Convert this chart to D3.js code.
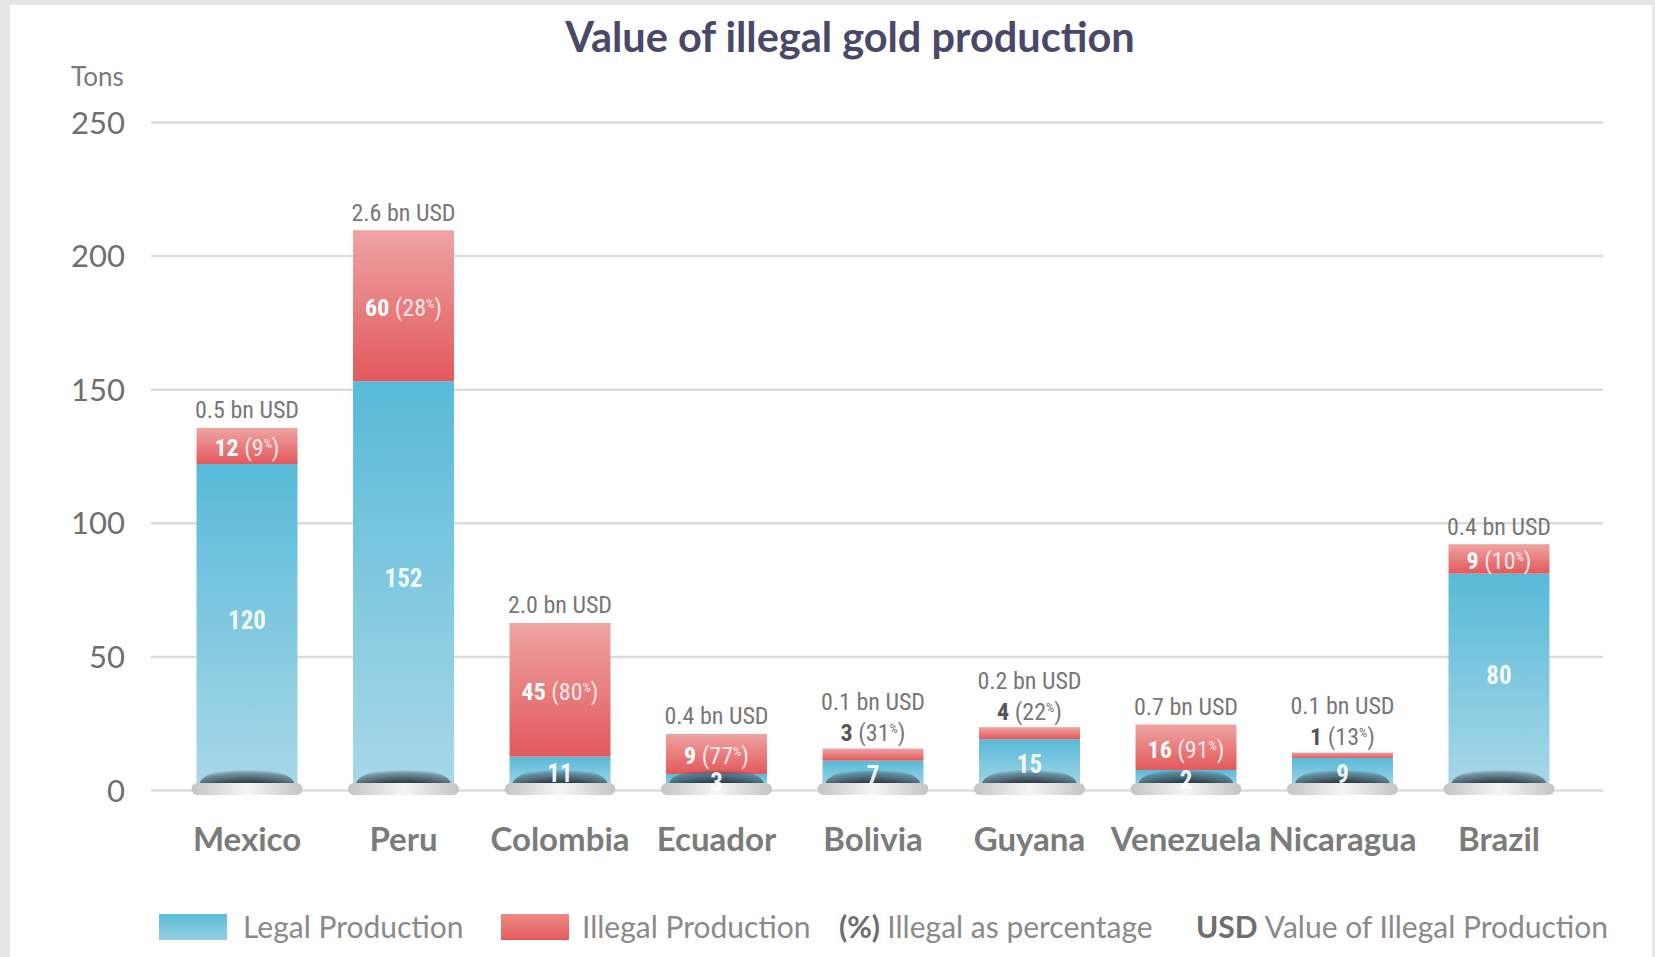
<!DOCTYPE html>
<html>
<head>
<meta charset="utf-8">
<script src="https://cdn.jsdelivr.net/npm/d3@7"></script>
<style>
  html, body { margin: 0; padding: 0; background: #fff; }
  svg { display: block; }
</style>
</head>
<body>
<svg id="chart" width="1655" height="957"></svg>
<script>
// ---- data ----
const countries = ["Mexico", "Peru", "Colombia", "Ecuador", "Bolivia", "Guyana", "Venezuela", "Nicaragua", "Brazil"];
// bar segment heights as drawn (tons)
const legal   = [122, 153, 12.5, 6, 11, 19, 7.5, 12, 81];
const illegal = [13.5, 56.5, 50, 15, 4.5, 4.5, 17, 2, 11];
// printed labels
const legalLabels   = ["120", "152", "11", "3", "7", "15", "2", "9", "80"];
const illegalLabels = ["12", "60", "45", "9", "3", "4", "16", "1", "9"];
const pctLabels     = ["9", "28", "80", "77", "31", "22", "91", "13", "10"];
const usdLabels     = ["0.5", "2.6", "2.0", "0.4", "0.1", "0.2", "0.7", "0.1", "0.4"];
const yTicks = [0, 50, 100, 150, 200, 250];
const titleText = "Value of illegal gold production";
const yUnit = "Tons";

// ---- setup ----
const svg = d3.select("#chart");
const W = 1655, H = 957;
const narrow = "'Liberation Sans Narrow', 'Arial Narrow', 'Roboto Condensed', 'DejaVu Sans Condensed', sans-serif";
const mainFont = "Lato, 'Open Sans', sans-serif";

// background frame
svg.append("rect").attr("width", W).attr("height", H).attr("fill", "#e6e6e6");
svg.append("rect").attr("x", 10).attr("y", 5).attr("width", W - 13).attr("height", H - 5).attr("fill", "#ffffff");

const defs = svg.append("defs");
const gBlue = defs.append("linearGradient").attr("id", "gBlue").attr("x1", 0).attr("y1", 0).attr("x2", 0).attr("y2", 1);
gBlue.append("stop").attr("offset", "0%").attr("stop-color", "#58bad8");
gBlue.append("stop").attr("offset", "100%").attr("stop-color", "#a9d8e8");
const gRed = defs.append("linearGradient").attr("id", "gRed").attr("x1", 0).attr("y1", 0).attr("x2", 0).attr("y2", 1);
gRed.append("stop").attr("offset", "0%").attr("stop-color", "#eea4a3");
gRed.append("stop").attr("offset", "100%").attr("stop-color", "#e3585b");
const gDome = defs.append("radialGradient").attr("id", "gDome").attr("cx", 0.5).attr("cy", 1).attr("r", 0.95);
gDome.append("stop").attr("offset", "0%").attr("stop-color", "#1c2329").attr("stop-opacity", 1);
gDome.append("stop").attr("offset", "60%").attr("stop-color", "#27313a").attr("stop-opacity", 0.9);
gDome.append("stop").attr("offset", "88%").attr("stop-color", "#3b4a55").attr("stop-opacity", 0.5);
gDome.append("stop").attr("offset", "100%").attr("stop-color", "#3b4a55").attr("stop-opacity", 0);
const gBase = defs.append("linearGradient").attr("id", "gBase").attr("x1", 0).attr("y1", 0).attr("x2", 1).attr("y2", 0);
gBase.append("stop").attr("offset", "0%").attr("stop-color", "#c4c4c4");
gBase.append("stop").attr("offset", "50%").attr("stop-color", "#f6f6f6");
gBase.append("stop").attr("offset", "100%").attr("stop-color", "#c4c4c4");

// scales
const x = d3.scaleBand().domain(countries).range([168.75, 168.75 + 156.5 * 9]).paddingInner(0.355).paddingOuter(0.1775);
const y = d3.scaleLinear().domain([0, 250]).range([790, 122]);
const gridX0 = 151, gridX1 = 1603;

// gridlines + tick labels via axis
const yAxis = d3.axisLeft(y).tickValues(yTicks).tickSize(-(gridX1 - gridX0)).tickPadding(26).tickFormat(d3.format("d"));
const ag = svg.append("g").attr("transform", `translate(${gridX0},0)`).call(yAxis);
ag.select(".domain").remove();
ag.selectAll(".tick line").attr("stroke", "#dcdcdc").attr("stroke-width", 2.5);
ag.selectAll(".tick text").attr("fill", "#6f6f6f").attr("font-family", mainFont).attr("font-size", 31).attr("dy", "0.36em");

// unit + title
svg.append("text").attr("x", 71).attr("y", 86).attr("font-family", mainFont).attr("font-size", 26)
  .attr("fill", "#7a7a7a").text(yUnit);
svg.append("text").attr("x", 850).attr("y", 52).attr("text-anchor", "middle").attr("font-family", mainFont)
  .attr("font-weight", "bold").attr("font-size", 41.5).attr("fill", "#4a4868").text(titleText);

// bars
const data = countries.map((c, i) => ({ c, i, legal: legal[i], illegal: illegal[i] }));
const bw = x.bandwidth();
const bars = svg.append("g").selectAll("g").data(data).join("g");

bars.append("rect").attr("x", d => x(d.c)).attr("width", bw)
  .attr("y", d => y(d.legal)).attr("height", d => y(0) - y(d.legal)).attr("fill", "url(#gBlue)");
bars.append("rect").attr("x", d => x(d.c)).attr("width", bw)
  .attr("y", d => y(d.legal + d.illegal)).attr("height", d => y(d.legal) - y(d.legal + d.illegal)).attr("fill", "url(#gRed)");

// dark dome shading at the bottom of each bar
const domeY = y(0) - 6;
bars.append("clipPath").attr("id", d => "clip" + d.i).append("rect")
  .attr("x", d => x(d.c)).attr("width", bw).attr("y", d => y(d.legal + d.illegal)).attr("height", d => domeY - y(d.legal + d.illegal));
bars.append("ellipse").attr("clip-path", d => `url(#clip${d.i})`)
  .attr("cx", d => x(d.c) + bw / 2).attr("cy", domeY).attr("rx", bw * 0.47).attr("ry", 16).attr("fill", "url(#gDome)");

// base disc
bars.append("rect").attr("x", d => x(d.c) - 5).attr("width", bw + 10).attr("y", y(0) - 7).attr("height", 12)
  .attr("rx", 6).attr("fill", "url(#gBase)");

// labels
function pctText(sel, numColor, restColor, d) {
  sel.append("tspan").attr("font-weight", "bold").attr("fill", numColor).text(illegalLabels[d.i]);
  sel.append("tspan").attr("fill", restColor).text(" (" + pctLabels[d.i]);
  sel.append("tspan").attr("fill", restColor).attr("font-size", 13).attr("dy", -8).text("%");
  sel.append("tspan").attr("fill", restColor).attr("dy", 8).text(")");
}
const inside = d => d.illegal >= 8;

bars.each(function (d) {
  const g = d3.select(this);
  const cx = x(d.c) + bw / 2;
  const top = y(d.legal + d.illegal);
  // legal label
  const lm = (y(d.legal) + y(0)) / 2 - (d.legal > 50 ? 7 : 0);
  g.append("text").attr("x", cx).attr("y", lm).attr("dy", "0.35em").attr("text-anchor", "middle")
    .attr("font-family", narrow).attr("font-weight", "bold").attr("font-size", 25).attr("fill", "#ffffff")
    .attr("fill-opacity", 0.92).text(legalLabels[d.i]);
  if (inside(d)) {
    const im = (y(d.legal + d.illegal) + y(d.legal)) / 2 + 2;
    const t = g.append("text").attr("x", cx).attr("y", im).attr("dy", "0.35em").attr("text-anchor", "middle")
      .attr("font-family", narrow).attr("font-size", 24);
    pctText(t, "#ffffff", "#fbe9e9", d);
    g.append("text").attr("x", cx).attr("y", top - 18).attr("dy", "0.35em").attr("text-anchor", "middle")
      .attr("font-family", narrow).attr("font-size", 24).attr("fill", "#777").text(usdLabels[d.i] + " bn USD");
  } else {
    const t = g.append("text").attr("x", cx).attr("y", top - 16).attr("dy", "0.35em").attr("text-anchor", "middle")
      .attr("font-family", narrow).attr("font-size", 24);
    pctText(t, "#555", "#777", d);
    g.append("text").attr("x", cx).attr("y", top - 47).attr("dy", "0.35em").attr("text-anchor", "middle")
      .attr("font-family", narrow).attr("font-size", 24).attr("fill", "#777").text(usdLabels[d.i] + " bn USD");
  }
});

// country labels
svg.append("g").selectAll("text").data(countries).join("text")
  .attr("x", d => x(d) + bw / 2).attr("y", 851).attr("text-anchor", "middle")
  .attr("font-family", mainFont).attr("font-weight", "bold").attr("font-size", 33).attr("fill", "#7b7b7b").text(d => d);

// legend
const lg = svg.append("g");
const gBlueL = defs.append("linearGradient").attr("id", "gBlueL").attr("x1", 0).attr("y1", 0).attr("x2", 0).attr("y2", 1);
gBlueL.append("stop").attr("offset", "0%").attr("stop-color", "#5bbcd9");
gBlueL.append("stop").attr("offset", "100%").attr("stop-color", "#94cfe3");
const gRedL = defs.append("linearGradient").attr("id", "gRedL").attr("x1", 0).attr("y1", 0).attr("x2", 0).attr("y2", 1);
gRedL.append("stop").attr("offset", "0%").attr("stop-color", "#ec8a86");
gRedL.append("stop").attr("offset", "100%").attr("stop-color", "#e45a5d");
lg.append("rect").attr("x", 159).attr("y", 914).attr("width", 68).attr("height", 26).attr("fill", "url(#gBlueL)");
lg.append("rect").attr("x", 501).attr("y", 914).attr("width", 68).attr("height", 26).attr("fill", "url(#gRedL)");
const legTxt = (xp, bold, rest) => {
  const t = lg.append("text").attr("x", xp).attr("y", 938).attr("font-family", mainFont).attr("font-size", 30).attr("fill", "#8a8a8a");
  if (bold) t.append("tspan").attr("font-weight", "bold").attr("fill", "#6e6e6e").text(bold + " ");
  t.append("tspan").text(rest);
};
legTxt(243, null, "Legal Production");
legTxt(582, null, "Illegal Production");
legTxt(839, "(%)", "Illegal as percentage");
legTxt(1196, "USD", "Value of Illegal Production");
</script>
</body>
</html>
